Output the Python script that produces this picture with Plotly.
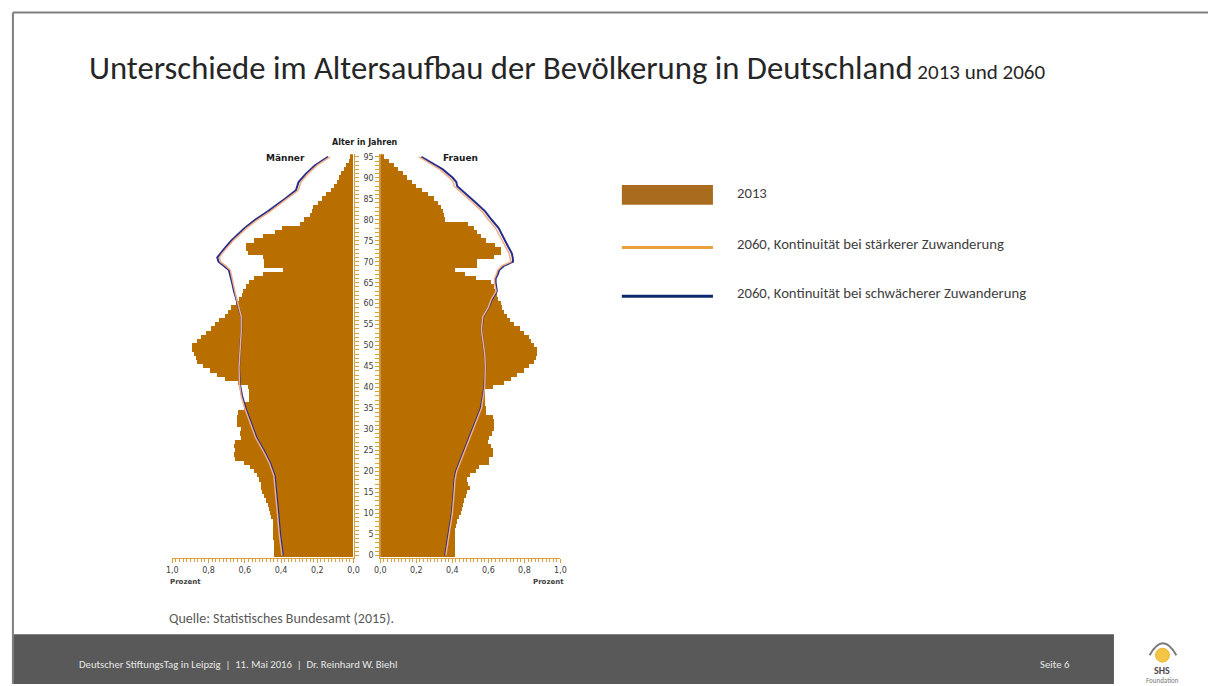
import plotly.graph_objects as go

W, H = 1214, 686

# ---------------- data ----------------
ages = list(range(0, 96))

men_2013 = [0.435, 0.437, 0.437, 0.437, 0.44, 0.44, 0.44, 0.44, 0.445, 0.455,
            0.46, 0.465, 0.47, 0.48, 0.49, 0.505, 0.51, 0.51, 0.52, 0.53,
            0.55, 0.57, 0.60, 0.655, 0.66, 0.655, 0.66, 0.65, 0.62, 0.625,
            0.62, 0.64, 0.64, 0.64, 0.635, 0.60, 0.60, 0.575, 0.575, 0.575,
            0.58, 0.635, 0.71, 0.75, 0.79, 0.83, 0.86, 0.87, 0.88, 0.89,
            0.89, 0.86, 0.84, 0.81, 0.785, 0.76, 0.74, 0.71, 0.69, 0.675,
            0.645, 0.63, 0.615, 0.61, 0.59, 0.575, 0.55, 0.50, 0.385, 0.495,
            0.495, 0.50, 0.58, 0.59, 0.59, 0.55, 0.50, 0.43, 0.395, 0.295,
            0.27, 0.24, 0.23, 0.22, 0.195, 0.17, 0.15, 0.12, 0.105, 0.09,
            0.08, 0.07, 0.05, 0.04, 0.025, 0.015]

women_2013 = [0.415, 0.415, 0.415, 0.415, 0.415, 0.415, 0.418, 0.42, 0.43, 0.44,
              0.448, 0.455, 0.46, 0.465, 0.475, 0.484, 0.497, 0.488, 0.484, 0.497,
              0.534, 0.55, 0.607, 0.607, 0.625, 0.625, 0.616, 0.598, 0.607, 0.62,
              0.634, 0.634, 0.634, 0.625, 0.59, 0.59, 0.585, 0.585, 0.585, 0.585,
              0.625, 0.69, 0.726, 0.76, 0.80, 0.826, 0.855, 0.865, 0.873, 0.873,
              0.855, 0.84, 0.825, 0.80, 0.775, 0.745, 0.72, 0.705, 0.69, 0.675,
              0.67, 0.655, 0.65, 0.64, 0.63, 0.615, 0.53, 0.47, 0.415, 0.54,
              0.54, 0.63, 0.67, 0.67, 0.64, 0.59, 0.56, 0.54, 0.52, 0.49,
              0.36, 0.355, 0.35, 0.34, 0.32, 0.30, 0.265, 0.235, 0.20, 0.175,
              0.15, 0.125, 0.10, 0.077, 0.05, 0.02]

men_line_ages = [0, 5, 10, 14, 19, 22, 25, 28, 32, 35, 38, 41, 45, 49, 53, 57, 60, 62,
                 63, 65, 67, 68, 69, 70, 71, 72, 73, 75, 78, 80, 82, 85, 87, 89, 91, 93, 95]
men_2060_strong = [0.395, 0.41, 0.42, 0.43, 0.44, 0.465, 0.50, 0.54, 0.575, 0.60, 0.62,
                   0.63, 0.632, 0.625, 0.62, 0.62, 0.64, 0.65, 0.655, 0.665, 0.675,
                   0.68, 0.705, 0.735, 0.74, 0.725, 0.705, 0.665, 0.59, 0.53, 0.46,
                   0.365, 0.305, 0.29, 0.25, 0.20, 0.13]
men_2060_weak = [0.39, 0.405, 0.415, 0.425, 0.435, 0.46, 0.495, 0.535, 0.57, 0.595, 0.615,
                 0.628, 0.632, 0.625, 0.62, 0.62, 0.642, 0.655, 0.66, 0.67, 0.68,
                 0.688, 0.715, 0.745, 0.752, 0.735, 0.715, 0.675, 0.602, 0.543, 0.473,
                 0.378, 0.318, 0.303, 0.262, 0.212, 0.14]

women_line_ages = [0, 3, 5, 10, 15, 18, 20, 25, 30, 35, 40, 45, 48, 51, 54, 57, 59, 61, 63,
                   65, 66, 67, 68, 69, 70, 71, 72, 74, 76, 78, 80, 82, 84, 86, 88, 89, 90,
                   92, 93, 95]
women_2060_strong = [0.364, 0.375, 0.382, 0.40, 0.41, 0.415, 0.424, 0.47, 0.515, 0.561,
                     0.58, 0.583, 0.58, 0.57, 0.561, 0.57, 0.598, 0.616, 0.643, 0.634,
                     0.634, 0.645, 0.652, 0.675, 0.725, 0.72, 0.715, 0.69, 0.665, 0.64,
                     0.60, 0.565, 0.515, 0.46, 0.41, 0.405, 0.385, 0.33, 0.29, 0.215]
women_2060_weak = [0.36, 0.372, 0.379, 0.397, 0.407, 0.412, 0.42, 0.466, 0.511, 0.557,
                   0.578, 0.583, 0.58, 0.57, 0.561, 0.572, 0.60, 0.62, 0.647, 0.64,
                   0.64, 0.652, 0.66, 0.685, 0.737, 0.735, 0.73, 0.705, 0.68, 0.657,
                   0.618, 0.582, 0.532, 0.477, 0.427, 0.422, 0.402, 0.347, 0.305, 0.228]

x_ticks = [0.0, 0.2, 0.4, 0.6, 0.8, 1.0]

legend_labels = ["2013",
                 "2060, Kontinuität bei stärkerer Zuwanderung",
                 "2060, Kontinuität bei schwächerer Zuwanderung"]

# ---------------- styles ----------------
BAR = "#B86F00"
LINE_STRONG = "#F2AE84"
LINE_WEAK = "#262C8C"
AXIS = "#D9A040"
TXT = "#404040"
CHART_FONT = "DejaVu Sans, Verdana, sans-serif"
SLIDE_FONT = "Carlito, Calibri, 'Liberation Sans Narrow', 'Open Sans', sans-serif"


def px(x):
    return x / W


def py(y):
    return 1 - y / H


fig = go.Figure()

fig.add_trace(go.Bar(y=ages, x=men_2013, orientation="h", width=1,
                     marker=dict(color=BAR, line=dict(width=0)),
                     xaxis="x", yaxis="y", showlegend=False))
fig.add_trace(go.Bar(y=ages, x=women_2013, orientation="h", width=1,
                     marker=dict(color=BAR, line=dict(width=0)),
                     xaxis="x2", yaxis="y2", showlegend=False))

# weaker-migration line first, stronger-migration line on top (thinner)
fig.add_trace(go.Scatter(y=men_line_ages, x=men_2060_weak, mode="lines",
                         line=dict(color=LINE_WEAK, width=2),
                         xaxis="x", yaxis="y", showlegend=False))
fig.add_trace(go.Scatter(y=men_line_ages, x=men_2060_strong, mode="lines",
                         line=dict(color=LINE_STRONG, width=1.5),
                         xaxis="x", yaxis="y", showlegend=False))
fig.add_trace(go.Scatter(y=women_line_ages, x=women_2060_weak, mode="lines",
                         line=dict(color=LINE_WEAK, width=2),
                         xaxis="x2", yaxis="y2", showlegend=False))
fig.add_trace(go.Scatter(y=women_line_ages, x=women_2060_strong, mode="lines",
                         line=dict(color=LINE_STRONG, width=1.5),
                         xaxis="x2", yaxis="y2", showlegend=False))

y_dom = [py(559.2), py(153.2)]
common_x = dict(showgrid=False, zeroline=False, showline=True, linecolor=AXIS, linewidth=1,
                ticks="outside", ticklen=4, tickcolor=AXIS, tickwidth=1,
                tickvals=x_ticks, tickformat=".1f",
                tickfont=dict(family=CHART_FONT, size=8, color=TXT),
                minor=dict(dtick=0.02, ticks="outside", ticklen=3, tickcolor=AXIS),
                fixedrange=True)
common_y = dict(showgrid=False, zeroline=False, showline=True, linecolor=AXIS, linewidth=1,
                range=[-0.6, 95.6], domain=y_dom,
                ticks="outside", ticklen=4, tickcolor=AXIS, tickwidth=1,
                tick0=0, dtick=5,
                minor=dict(dtick=1, ticks="outside", ticklen=4, tickcolor=AXIS),
                tickfont=dict(family=CHART_FONT, size=8, color=TXT),
                fixedrange=True)

fig.update_layout(
    width=W, height=H,
    margin=dict(l=0, r=0, t=0, b=0, pad=0),
    paper_bgcolor="white", plot_bgcolor="rgba(0,0,0,0)",
    separators=",.",
    bargap=0,
    showlegend=False,
    xaxis=dict(domain=[px(168), px(351)], range=[1.0, 0.0], anchor="y", **common_x),
    xaxis2=dict(domain=[px(378), px(560)], range=[0.0, 1.0], anchor="y2", **common_x),
    yaxis=dict(anchor="x", side="right", showticklabels=False, **common_y),
    yaxis2=dict(anchor="x2", side="left", showticklabels=True, **common_y),
)

shapes = []
# slide frame
shapes.append(dict(type="line", xref="paper", yref="paper", x0=px(7), x1=1, y0=py(10.5), y1=py(10.5),
                   line=dict(color="#7F7F7F", width=2)))
shapes.append(dict(type="line", xref="paper", yref="paper", x0=px(7), x1=px(7), y0=py(10.5), y1=py(686),
                   line=dict(color="#7F7F7F", width=2)))
# footer bar
shapes.append(dict(type="rect", xref="paper", yref="paper", x0=px(7), x1=px(1119), y0=0, y1=py(636),
                   fillcolor="#595959", line=dict(width=0), layer="below"))
# legend swatches
shapes.append(dict(type="rect", xref="paper", yref="paper", x0=px(622), x1=px(714), y0=py(204), y1=py(184),
                   fillcolor="#A96C1F", line=dict(width=0)))
shapes.append(dict(type="line", xref="paper", yref="paper", x0=px(622), x1=px(714), y0=py(247), y1=py(247),
                   line=dict(color="#E9A23B", width=3)))
shapes.append(dict(type="line", xref="paper", yref="paper", x0=px(622), x1=px(714), y0=py(296), y1=py(296),
                   line=dict(color="#0B2A6B", width=3)))
# logo: sun + arc
shapes.append(dict(type="circle", xref="paper", yref="paper", x0=px(1161), x1=px(1175), y0=py(664), y1=py(650),
                   fillcolor="#F4C544", line=dict(color="#E8B830", width=1)))
shapes.append(dict(type="path", xref="paper", yref="paper",
                   path="M %f,%f Q %f,%f %f,%f" % (px(1155), py(657), px(1168.5), py(633), px(1182), py(657)),
                   line=dict(color="#7A7A7A", width=2)))
fig.update_layout(shapes=shapes)

ann = []


def add_text(x, y, text, size, color=TXT, family=SLIDE_FONT, xanchor="left", yanchor="middle", bold=False):
    t = "<b>%s</b>" % text if bold else text
    ann.append(dict(x=px(x), y=py(y), xref="paper", yref="paper", text=t, showarrow=False,
                    xanchor=xanchor, yanchor=yanchor,
                    font=dict(family=family, size=size, color=color)))


ann.append(dict(x=px(82), y=py(89), xref="paper", yref="paper", showarrow=False,
                xanchor="left", yanchor="bottom",
                text="Unterschiede im Altersaufbau der Bevölkerung in Deutschland"
                     "<span style='font-size:21px'> 2013 und 2060</span>",
                font=dict(family=SLIDE_FONT, size=32.7, color="#262626")))

add_text(363, 141, "Alter in Jahren", 8, color="#1a1a1a", family=CHART_FONT, xanchor="center", bold=True)
add_text(282, 157, "Männer", 9, color="#1a1a1a", family=CHART_FONT, xanchor="center", bold=True)
add_text(459, 157, "Frauen", 9, color="#1a1a1a", family=CHART_FONT, xanchor="center", bold=True)
add_text(164, 583, "Prozent", 7, color=TXT, family=CHART_FONT, xanchor="left", bold=True)
add_text(566, 583, "Prozent", 7, color=TXT, family=CHART_FONT, xanchor="right", bold=True)

add_text(736, 192, legend_labels[0], 14.7)
add_text(736, 243, legend_labels[1], 14.7)
add_text(736, 293, legend_labels[2], 14.7)

add_text(163, 620, "Quelle: Statistisches Bundesamt (2015).", 14, color="#595959")
add_text(72, 666, "Deutscher StiftungsTag in Leipzig  |  11. Mai 2016  |  Dr. Reinhard W. Biehl", 10.7,
         color="#E6E6E6")
add_text(1059, 666, "Seite 6", 10.7, color="#E6E6E6", xanchor="center")
add_text(1168, 672, "SHS", 10, color="#4A4A4A", xanchor="center", bold=True)
add_text(1168, 682, "Foundation", 7, color="#7A7A7A", xanchor="center")

fig.update_layout(annotations=ann)

fig.write_html(
    "out.html",
    config={"displayModeBar": False},
    post_script=(
        "document.documentElement.style.margin='0';"
        "document.documentElement.style.overflow='hidden';"
        "document.body.style.margin='0';"
        "document.body.style.overflow='hidden';"
    ),
)
